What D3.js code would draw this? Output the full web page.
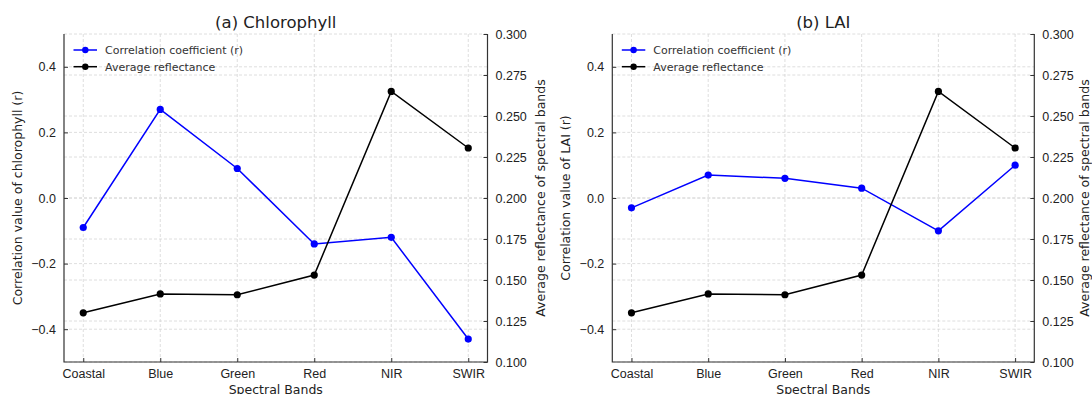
<!DOCTYPE html>
<html>
<head>
<meta charset="utf-8">
<script src="https://cdn.jsdelivr.net/npm/d3@7"></script>
<style>
  body { margin: 0; background: #fff; }
  svg { display: block; font-family: "DejaVu Sans", sans-serif; }
</style>
</head>
<body>
<svg width="1092" height="394"></svg>
<script>
// data
var bands = ["Coastal", "Blue", "Green", "Red", "NIR", "SWIR"];
var chlCorr = [-0.09, 0.27, 0.09, -0.14, -0.12, -0.43];
var laiCorr = [-0.03, 0.07, 0.06, 0.03, -0.10, 0.10];
var reflectance = [0.130, 0.1415, 0.141, 0.153, 0.265, 0.2305];
var corrTicks = [-0.4, -0.2, 0.0, 0.2, 0.4];
var reflTicks = [0.100, 0.125, 0.150, 0.175, 0.200, 0.225, 0.250, 0.275, 0.300];
var legendLabels = ["Correlation coefficient (r)", "Average reflectance"];

var svg = d3.select("svg");
var plotTop = 34, plotBottom = 362;
var txt = "#222";

function drawPanel(opt) {
  var x = d3.scaleLinear().domain([-0.25, 5.25]).range([opt.left, opt.right]);
  var y = d3.scaleLinear().domain([-0.5, 0.5]).range([plotBottom, plotTop]);
  var y2 = d3.scaleLinear().domain([0.1, 0.3]).range([plotBottom, plotTop]);
  var g = svg.append("g");

  // grid
  var grid = g.append("g").attr("stroke", "#d6d6d6").attr("stroke-width", 0.8)
    .attr("stroke-dasharray", "3,2");
  grid.selectAll(".gx").data(bands).enter().append("line")
    .attr("x1", function(d, i) { return x(i); }).attr("x2", function(d, i) { return x(i); })
    .attr("y1", plotTop).attr("y2", plotBottom);
  grid.selectAll(".gy").data(corrTicks).enter().append("line")
    .attr("x1", opt.left).attr("x2", opt.right)
    .attr("y1", function(d) { return y(d); }).attr("y2", function(d) { return y(d); });
  grid.selectAll(".gy2").data(reflTicks).enter().append("line")
    .attr("x1", opt.left).attr("x2", opt.right)
    .attr("y1", function(d) { return y2(d); }).attr("y2", function(d) { return y2(d); });

  // axes, ticks pointing in
  var ax = g.append("g").attr("transform", "translate(0," + plotBottom + ")")
    .call(d3.axisBottom(x).tickValues(d3.range(bands.length))
      .tickFormat(function(i) { return bands[i]; }).tickSizeInner(-4).tickSizeOuter(0).tickPadding(7));
  var ay = g.append("g").attr("transform", "translate(" + opt.left + ",0)")
    .call(d3.axisLeft(y).tickValues(corrTicks).tickFormat(d3.format(".1f"))
      .tickSizeInner(-4).tickSizeOuter(0).tickPadding(8));
  var ay2 = g.append("g").attr("transform", "translate(" + opt.right + ",0)")
    .call(d3.axisRight(y2).tickValues(reflTicks).tickFormat(d3.format(".3f"))
      .tickSizeInner(-4).tickSizeOuter(0).tickPadding(8));
  [ax, ay, ay2].forEach(function(a) {
    a.select(".domain").remove();
    a.selectAll("line").attr("stroke", "#333").attr("stroke-width", 1);
    a.selectAll("text").attr("fill", txt).style("font-size", "12.5px");
  });
  // frame: left, bottom, right spines
  g.append("path")
    .attr("d", "M" + opt.left + "," + plotTop + "V" + plotBottom + "H" + opt.right + "V" + plotTop)
    .attr("fill", "none").attr("stroke", "#333").attr("stroke-width", 1.2);

  // series
  var line = d3.line().x(function(d, i) { return x(i); });
  g.append("path").datum(opt.corr).attr("d", line.y(function(d) { return y(d); }))
    .attr("fill", "none").attr("stroke", "#0000ff").attr("stroke-width", 1.5);
  g.selectAll(".pc").data(opt.corr).enter().append("circle")
    .attr("cx", function(d, i) { return x(i); }).attr("cy", function(d) { return y(d); })
    .attr("r", 3.6).attr("fill", "#0000ff");
  g.append("path").datum(reflectance).attr("d", line.y(function(d) { return y2(d); }))
    .attr("fill", "none").attr("stroke", "#000").attr("stroke-width", 1.5);
  g.selectAll(".pr").data(reflectance).enter().append("circle")
    .attr("cx", function(d, i) { return x(i); }).attr("cy", function(d) { return y2(d); })
    .attr("r", 3.6).attr("fill", "#000");

  // legend
  var colors = ["#0000ff", "#000"];
  var lg = g.selectAll(".lg").data(legendLabels).enter().append("g")
    .attr("transform", function(d, i) { return "translate(" + opt.left + "," + (50 + i * 16.7) + ")"; });
  lg.append("line").attr("x1", 9.5).attr("x2", 33)
    .attr("stroke", function(d, i) { return colors[i]; }).attr("stroke-width", 1.5);
  lg.append("circle").attr("cx", 21.3).attr("r", 3.2)
    .attr("fill", function(d, i) { return colors[i]; });
  lg.append("text").attr("x", 41).attr("dy", "0.35em")
    .style("font-size", "11px").attr("fill", "#333").text(function(d) { return d; });

  // titles and axis labels
  var cx = (opt.left + opt.right) / 2, cy = (plotTop + plotBottom) / 2;
  g.append("text").attr("x", cx).attr("y", 28).attr("text-anchor", "middle")
    .style("font-size", "16.5px").attr("fill", txt).text(opt.title);
  g.append("text").attr("x", cx).attr("y", 394).attr("text-anchor", "middle")
    .style("font-size", "12.5px").attr("fill", txt).text("Spectral Bands");
  g.append("text").attr("transform", "translate(" + opt.yLabelX + "," + cy + ") rotate(-90)")
    .attr("text-anchor", "middle").attr("dy", "0.35em")
    .style("font-size", "12.5px").attr("fill", txt).text(opt.yLabel);
  g.append("text").attr("transform", "translate(" + opt.y2LabelX + "," + cy + ") rotate(-90)")
    .attr("text-anchor", "middle").attr("dy", "0.35em")
    .style("font-size", "12.5px").attr("fill", txt).text("Average reflectance of spectral bands");
}

drawPanel({ left: 64, right: 487.5, corr: chlCorr, title: "(a) Chlorophyll",
  yLabel: "Correlation value of chlorophyll (r)", yLabelX: 18, y2LabelX: 541 });
drawPanel({ left: 612.3, right: 1034.3, corr: laiCorr, title: "(b) LAI",
  yLabel: "Correlation value of LAI (r)", yLabelX: 566, y2LabelX: 1085 });
</script>
</body>
</html>
